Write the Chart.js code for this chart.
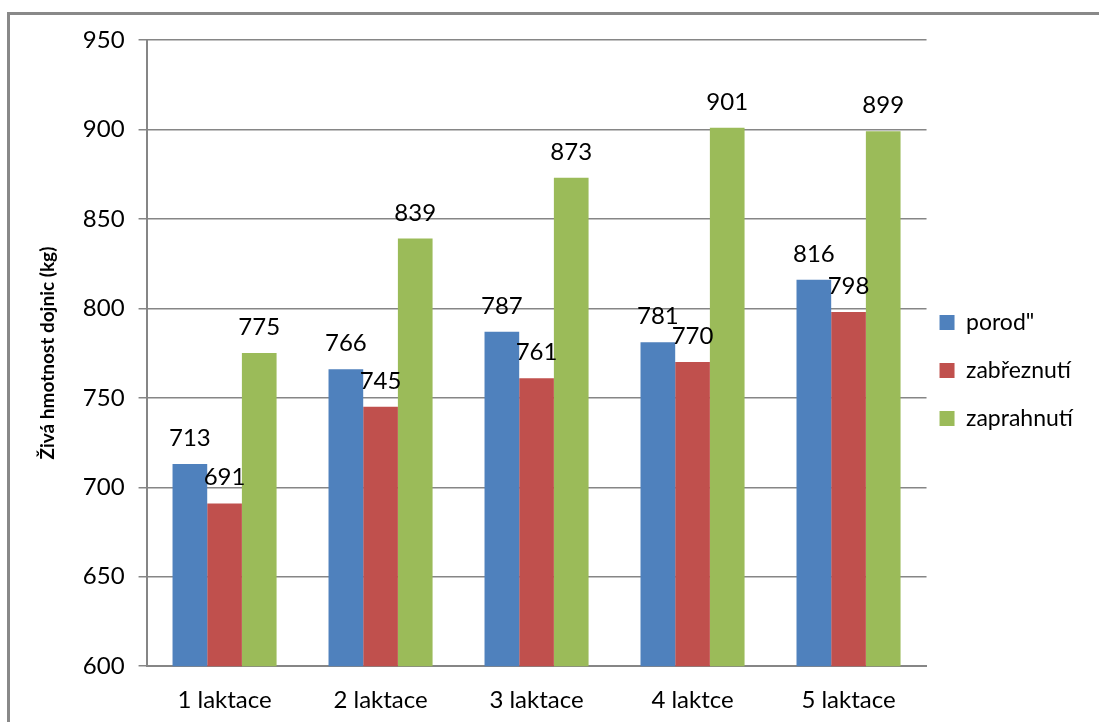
<!DOCTYPE html>
<html lang="cs">
<head>
  <meta charset="UTF-8" />
  <title>Živá hmotnost dojnic</title>
  <script src="https://cdn.jsdelivr.net/npm/chart.js"></script>
  <style>
    body { margin: 0; background: #fff; overflow: hidden; }
    .ramecek {
      position: absolute; left: 7px; top: 12px;
      width: 1200px; height: 800px;
      border: 3px solid #898989;
    }
    .obal { position: absolute; left: 0; top: 0; width: 1099px; height: 722px; }
  </style>
</head>
<body>
  <div class="ramecek"></div>
  <div class="obal"><canvas id="graf_hmotnost"></canvas></div>

<script>
  // kategorie a hodnoty
  var laktace = ["1 laktace", "2 laktace", "3 laktace", "4 laktce", "5 laktace"];
  var porod = [713, 766, 787, 781, 816];
  var zabreznuti = [691, 745, 761, 770, 798];
  var zaprahnuti = [775, 839, 873, 901, 899];
  var osa_y = [600, 650, 700, 750, 800, 850, 900, 950];

  var pismo = "Lato, 'Open Sans', sans-serif";

  // popisky hodnot nad sloupci
  var popisky = {
    id: "popisky",
    afterDatasetsDraw(chart) {
      var ctx = chart.ctx;
      ctx.save();
      ctx.font = "24px " + pismo;
      ctx.fillStyle = "#000";
      ctx.textAlign = "center";
      ctx.textBaseline = "alphabetic";
      chart.data.datasets.forEach(function (ds, i) {
        chart.getDatasetMeta(i).data.forEach(function (bar, j) {
          ctx.fillText(ds.data[j], bar.x, bar.y - 18);
        });
      });
      ctx.restore();
    }
  };

  // legenda blíž ke grafu
  var posun_legendy = {
    id: "posun_legendy",
    afterLayout(chart) {
      var l = chart.legend;
      l.left -= 12; l.right -= 12;
      l.top -= 17; l.bottom -= 17;
    }
  };

  new Chart(document.getElementById("graf_hmotnost"), {
    type: "bar",
    data: {
      labels: laktace,
      datasets: [
        { label: "porod\"", data: porod, backgroundColor: "#4F81BD" },
        { label: "zabřeznutí", data: zabreznuti, backgroundColor: "#C0504D" },
        { label: "zaprahnutí", data: zaprahnuti, backgroundColor: "#9BBB59" }
      ]
    },
    options: {
      responsive: true,
      maintainAspectRatio: false,
      animation: false,
      datasets: { bar: { categoryPercentage: 0.667, barPercentage: 1.0 } },
      layout: { padding: { left: 32, top: 40, right: 4, bottom: -13 } },
      plugins: {
        legend: {
          position: "right",
          labels: {
            boxWidth: 15,
            boxHeight: 15,
            padding: 25,
            color: "#000",
            font: { size: 23, family: pismo }
          }
        },
        tooltip: { enabled: false }
      },
      scales: {
        x: {
          grid: { display: false, drawTicks: false },
          border: { color: "#868686", width: 2 },
          ticks: { color: "#000", font: { size: 24, family: pismo }, padding: 20 }
        },
        y: {
          min: osa_y[0],
          max: osa_y[osa_y.length - 1],
          afterBuildTicks(axis) {
            axis.ticks = osa_y.map(function (v) { return { value: v }; });
          },
          grid: { color: "#868686", lineWidth: 1.5, tickLength: 8 },
          border: { color: "#868686", width: 2 },
          ticks: { color: "#000", font: { size: 24, family: pismo }, padding: 14 },
          title: {
            display: true,
            text: "Živá hmotnost dojnic (kg)",
            color: "#000",
            font: { size: 19, weight: "bold", family: pismo },
            padding: { bottom: 10 }
          }
        }
      }
    },
    plugins: [popisky, posun_legendy]
  });
</script>
</body>
</html>
